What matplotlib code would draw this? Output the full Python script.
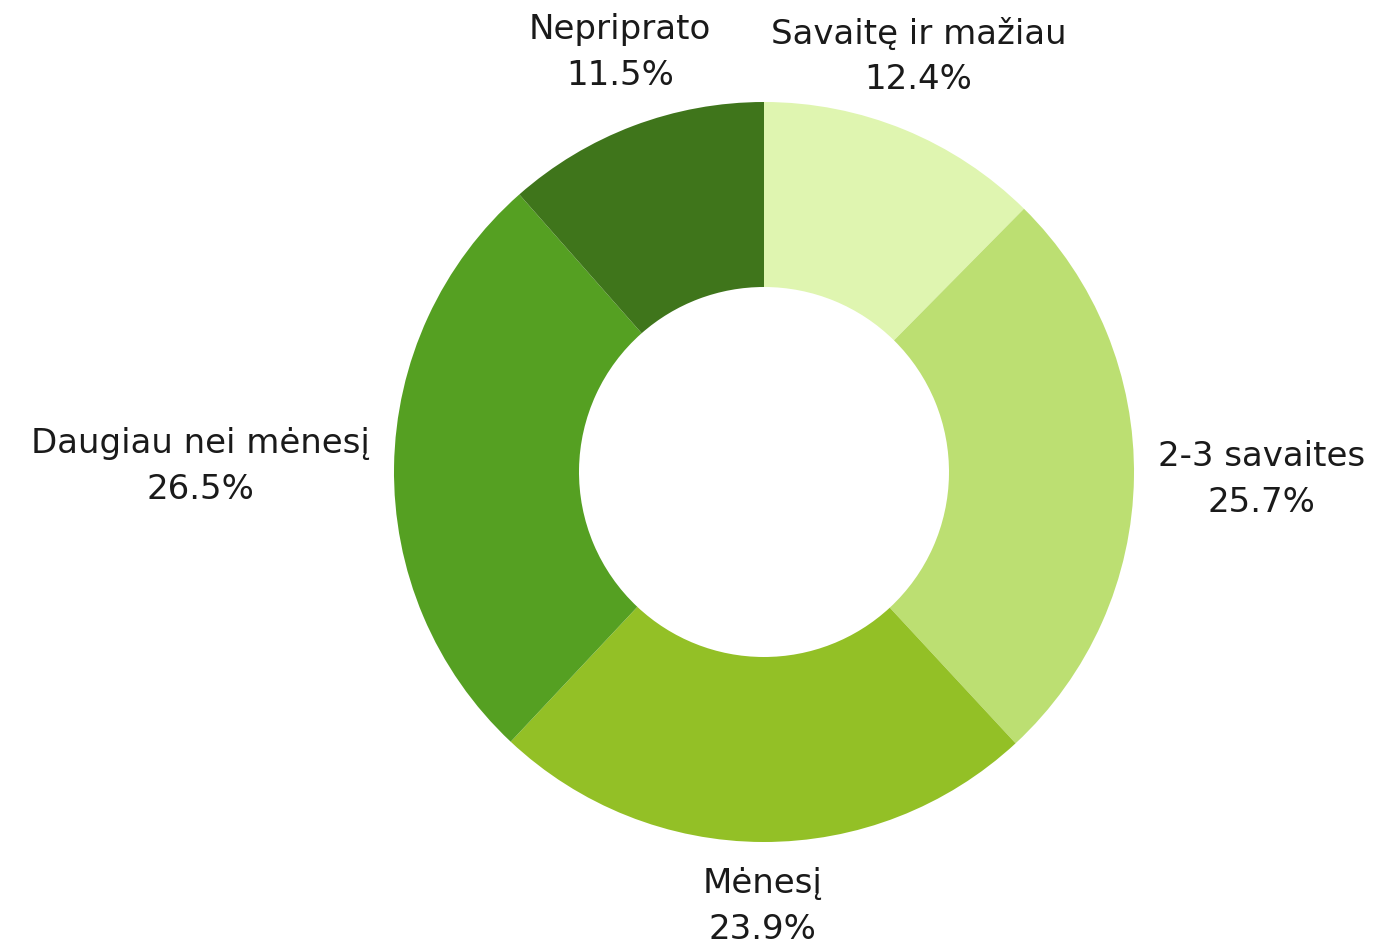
import numpy as np
import matplotlib
matplotlib.use("Agg")
import matplotlib.pyplot as plt

# ---------- 数据 ----------
labels = ["Savaitę ir mažiau", "2-3 savaites", "Mėnesį", "Daugiau nei mėnesį", "Nepriprato"]
values = [12.4, 25.7, 23.9, 26.5, 11.5]
colors = ["#dff5b0", "#bcdf72", "#93c026", "#55a022", "#3f751b"]

plt.rcParams["font.family"] = ["DejaVu Sans"]

W, H = 1379, 945
fig = plt.figure(figsize=(W / 100, H / 100), dpi=100)
ax = fig.add_axes([0, 0, 1, 1])
cx, cy, R = 764, 473, 370

wedges, _ = ax.pie(values, colors=colors, startangle=90, counterclock=False,
                   radius=1.0, wedgeprops=dict(width=0.5, linewidth=0))

# pie() resets the limits, so set them afterwards
ax.set_xlim(-cx / R, (W - cx) / R)
ax.set_ylim(-(H - cy) / R, cy / R)
ax.set_aspect("equal")
ax.axis("off")

for w, lab, v in zip(wedges, labels, values):
    ang = np.deg2rad((w.theta1 + w.theta2) / 2)
    c, s = np.cos(ang), np.sin(ang)
    r = 1.065
    ha = "left" if c > 0.5 else ("right" if c < -0.5 else "center")
    va = "bottom" if s > 0.5 else ("top" if s < -0.5 else "center")
    if va == "bottom":
        r = 1.1
    ax.text(r * c, r * s, f"{lab}\n{v:.1f}%", ha=ha, va=va, fontsize=24.5,
            color="#1a1a1a", linespacing=1.5, multialignment="center")

fig.savefig("out.png", dpi=100)
